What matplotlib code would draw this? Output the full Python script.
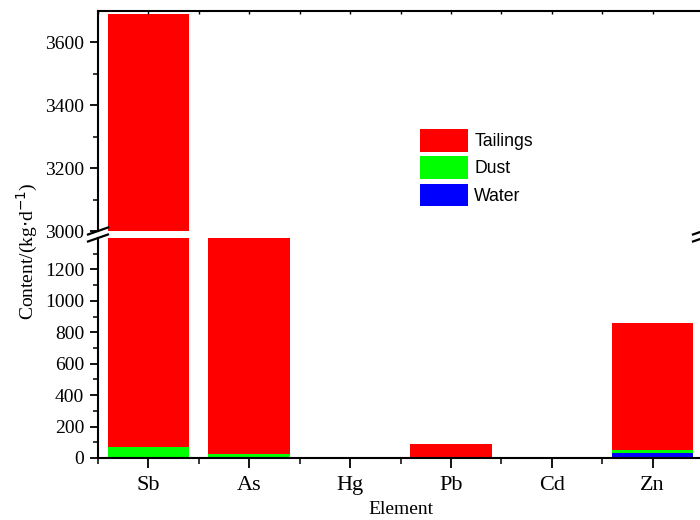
import numpy as np
import matplotlib.pyplot as plt
from matplotlib.patches import Patch
from matplotlib.ticker import MultipleLocator, FixedLocator

# data (kg/d)
elements = ['Sb', 'As', 'Hg', 'Pb', 'Cd', 'Zn']
water = [8, 3, 0.5, 1, 0.3, 33]
dust = [60, 23, 1, 3, 0.5, 20]
tailings = [3622, 1380, 4, 83, 1.5, 807]

colors = {'Tailings': '#ff0000', 'Dust': '#00ff00', 'Water': '#0000ff'}
serif = 'Liberation Serif'
sans = 'Liberation Sans'

fig = plt.figure(figsize=(7, 5.2), dpi=100)

# broken y axis: two panels, the right edge runs just past the picture
ax_top = fig.add_axes([98 / 700, (520 - 231) / 520, 605 / 700, 220 / 520])
ax_bot = fig.add_axes([98 / 700, (520 - 458) / 520, 605 / 700, 220 / 520])

x = np.arange(1, len(elements) + 1)
water = np.array(water)
dust = np.array(dust)
tailings = np.array(tailings)

for ax in (ax_top, ax_bot):
    ax.bar(x, water, width=0.81, color=colors['Water'], linewidth=0)
    ax.bar(x, dust, width=0.81, bottom=water, color=colors['Dust'], linewidth=0)
    ax.bar(x, tailings, width=0.81, bottom=water + dust, color=colors['Tailings'], linewidth=0)
    ax.set_xlim(0.5, 6.5)
    for s in ax.spines.values():
        s.set_linewidth(1.5)
    ax.tick_params(axis='y', which='major', direction='out', length=6, width=1.3,
                   labelsize=14, pad=4)
    ax.tick_params(axis='y', which='minor', direction='out', length=3.5, width=1.1)
    ax.tick_params(axis='y', right=False, which='both')

ax_top.set_ylim(3000, 3700)
ax_top.yaxis.set_major_locator(FixedLocator([3000, 3200, 3400, 3600]))
ax_top.yaxis.set_minor_locator(FixedLocator([3100, 3300, 3500]))
ax_top.spines['bottom'].set_visible(False)
ax_top.set_xticks(x)
ax_top.xaxis.set_minor_locator(MultipleLocator(1, offset=0.5))
ax_top.tick_params(axis='x', which='both', bottom=False, labelbottom=False,
                   top=True, direction='in', length=2.5, width=1)

ax_bot.set_ylim(0, 1400)
ax_bot.yaxis.set_major_locator(FixedLocator([0, 200, 400, 600, 800, 1000, 1200]))
ax_bot.yaxis.set_minor_locator(FixedLocator([100, 300, 500, 700, 900, 1100, 1300]))
ax_bot.spines['top'].set_visible(False)
ax_bot.set_xticks(x)
ax_bot.set_xticklabels(elements, fontfamily=serif, fontsize=16)
ax_bot.xaxis.set_minor_locator(MultipleLocator(1, offset=0.5))
ax_bot.tick_params(axis='x', which='major', direction='out', length=7, width=1.3, pad=6)
ax_bot.tick_params(axis='x', which='minor', direction='out', length=4, width=1.1)
ax_bot.tick_params(axis='x', top=False, which='both')

for lab in ax_top.get_yticklabels() + ax_bot.get_yticklabels():
    lab.set_fontfamily(serif)

ax_bot.set_xlabel('Element', fontfamily=serif, fontsize=14, labelpad=4.5)
fig.text(27 / 700, (520 - 251) / 520, 'Content/(kg$\\cdot$d$^{-1}$)', rotation=90,
         ha='center', va='center', fontfamily=serif, fontsize=14)

# break marks on the y spines
for xc in (98, 703):
    for yc in (231, 238):
        fig.add_artist(plt.Line2D([(xc - 10) / 700, (xc + 10) / 700],
                                  [(520 - yc - 3.5) / 520, (520 - yc + 3.5) / 520],
                                  color='black', linewidth=1.6))

handles = [Patch(color=colors[k], linewidth=0) for k in ['Tailings', 'Dust', 'Water']]
fig.legend(handles, ['Tailings', 'Dust', 'Water'], loc='upper left',
           bbox_to_anchor=(420 / 700, (520 - 129) / 520), frameon=False,
           prop={'family': sans, 'size': 12.7}, handlelength=2.73, handleheight=1.6,
           labelspacing=0.26, handletextpad=0.34, borderpad=0, borderaxespad=0)

fig.savefig('out.png', dpi=100)
